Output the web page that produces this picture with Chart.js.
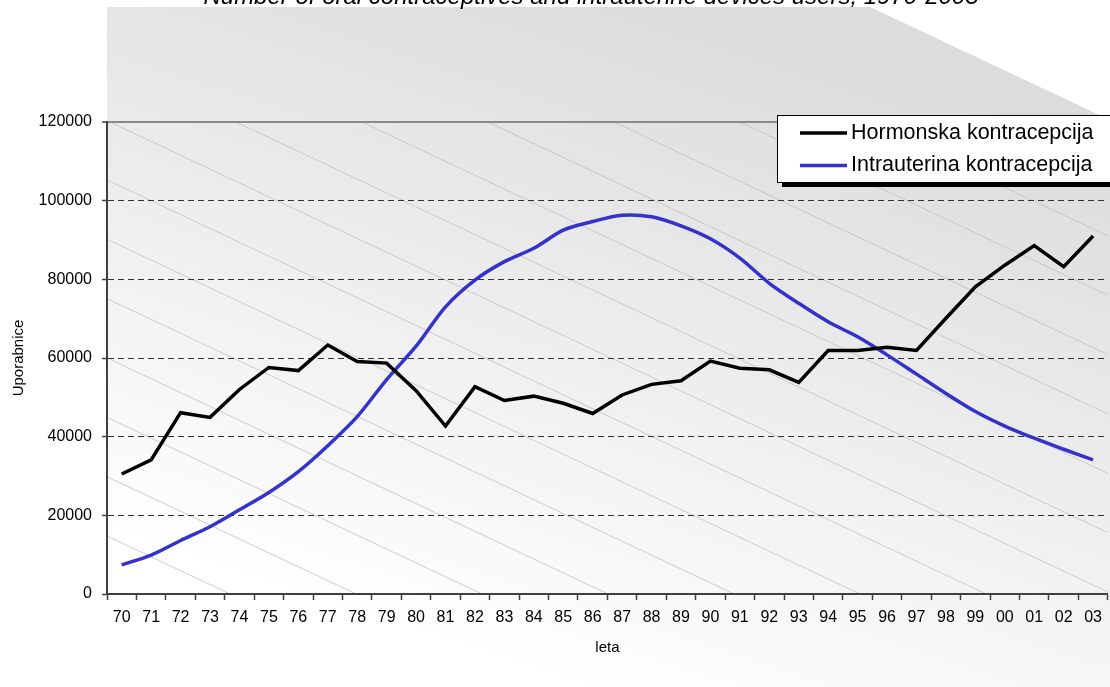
<!DOCTYPE html>
<html>
<head>
<meta charset="utf-8">
<title>Uporabnice kontracepcije</title>
<script src="https://cdn.jsdelivr.net/npm/chart.js@4.4.1/dist/chart.umd.min.js"></script>
<style>
    body { margin: 0; background: #fff; }
    #wrap { width: 1110px; height: 687px; overflow: hidden; }
</style>
</head>
<body>
<div id="wrap"><canvas id="contraChart" width="1110" height="687"></canvas></div>
<script>
const chartTitle = "Number of oral contraceptives and intrauterine devices users, 1970-2003";
const years = ["70", "71", "72", "73", "74", "75", "76", "77", "78", "79",
    "80", "81", "82", "83", "84", "85", "86", "87", "88", "89",
    "90", "91", "92", "93", "94", "95", "96", "97", "98", "99",
    "00", "01", "02", "03"];
const hormonal = [30500, 34100, 46100, 44900, 52000, 57600, 56800, 63300, 59100, 58700,
    51700, 42700, 52700, 49200, 50300, 48500, 45900, 50600, 53300, 54200,
    59200, 57400, 57000, 53800, 61900, 61900, 62700, 61900, 70100, 78100,
    83600, 88600, 83200, 91000];
const intrauterine = [7400, 9900, 13600, 17100, 21400, 25800, 31100, 37700, 45100, 54500,
    63000, 73000, 79800, 84500, 87900, 92500, 94700, 96300, 95900, 93600,
    90300, 85400, 79000, 73900, 69200, 65400, 60800, 55900, 51000, 46400,
    42700, 39600, 36800, 34100];
const yTicks = { min: 0, max: 120000, step: 20000 };

document.addEventListener("DOMContentLoaded", function () {
    const fontFamily = '"Liberation Sans", Arial, sans-serif';
    Chart.defaults.font.family = fontFamily;

    // grey shaded backdrop with thin diagonal lines, like the old office chart
    const backdrop = {
        id: "backdrop",
        beforeDraw(chart) {
            const ctx = chart.ctx;
            const area = chart.chartArea;
            ctx.save();
            const grad = ctx.createLinearGradient(470, 660, 680, 10);
            grad.addColorStop(0, "#ffffff");
            grad.addColorStop(1, "#dcdcdc");
            ctx.fillStyle = grad;
            ctx.beginPath();
            ctx.moveTo(area.left, 7);
            ctx.lineTo(870, 7);
            ctx.lineTo(chart.width, 120);
            ctx.lineTo(chart.width, chart.height);
            ctx.lineTo(330, chart.height);
            ctx.lineTo(area.left, 600);
            ctx.closePath();
            ctx.fill();

            ctx.beginPath();
            ctx.rect(area.left, area.top, area.right - area.left, area.bottom - area.top);
            ctx.clip();
            ctx.strokeStyle = "#c2c2c2";
            ctx.lineWidth = 0.8;
            const run = (area.bottom - area.top) / 0.471;
            for (let x = area.left + 3 - 126 * 10; x < area.right; x += 126) {
                ctx.beginPath();
                ctx.moveTo(x, area.top);
                ctx.lineTo(x + run, area.bottom);
                ctx.stroke();
            }
            ctx.restore();
        }
    };

    const topTitle = {
        id: "topTitle",
        afterDraw(chart) {
            const ctx = chart.ctx;
            ctx.save();
            ctx.font = "italic 24px " + fontFamily;
            ctx.fillStyle = "#000";
            ctx.textAlign = "center";
            ctx.textBaseline = "alphabetic";
            ctx.fillText(chartTitle, 591, 4);
            ctx.restore();
        }
    };

    const boxLegend = {
        id: "boxLegend",
        afterDraw(chart) {
            const ctx = chart.ctx;
            const x = 777, y = 115, w = 345, h = 67;
            ctx.save();
            ctx.fillStyle = "#000";
            ctx.fillRect(x + 5, y + 5, w, h);
            ctx.fillStyle = "#fff";
            ctx.fillRect(x, y, w, h);
            ctx.strokeStyle = "#000";
            ctx.lineWidth = 1;
            ctx.strokeRect(x + 0.5, y + 0.5, w, h);
            ctx.font = "21.5px " + fontFamily;
            ctx.textBaseline = "middle";
            chart.data.datasets.forEach(function (ds, i) {
                const ly = 133 + i * 32.5;
                ctx.strokeStyle = ds.borderColor;
                ctx.lineWidth = 3.5;
                ctx.beginPath();
                ctx.moveTo(800, ly);
                ctx.lineTo(847, ly);
                ctx.stroke();
                ctx.fillStyle = "#000";
                ctx.fillText(ds.label, 851, ly);
            });
            ctx.restore();
        }
    };

    const isTop = (c) => c.tick && c.tick.value === yTicks.max;

    new Chart(document.getElementById("contraChart"), {
        type: "line",
        data: {
            labels: years,
            datasets: [
                {
                    label: "Hormonska kontracepcija",
                    data: hormonal,
                    borderColor: "#000000",
                    borderWidth: 3.5,
                    pointRadius: 0,
                    tension: 0,
                },
                {
                    label: "Intrauterina kontracepcija",
                    data: intrauterine,
                    borderColor: "#3333cc",
                    borderWidth: 3.5,
                    pointRadius: 0,
                    tension: 0.3,
                },
            ],
        },
        options: {
            responsive: false,
            animation: false,
            layout: { padding: { top: 122, right: -3, left: 0, bottom: 0 } },
            plugins: {
                legend: { display: false },
                title: { display: false },
                tooltip: { enabled: false },
            },
            scales: {
                x: {
                    offset: true,
                    grid: {
                        drawOnChartArea: false,
                        offset: true,
                        tickLength: 6,
                        tickColor: "#404040",
                        tickWidth: 1.5,
                    },
                    border: { color: "#404040", width: 2 },
                    ticks: {
                        color: "#000",
                        font: { size: 16 },
                        padding: 8,
                        maxRotation: 0,
                        autoSkip: false,
                    },
                    title: {
                        display: true,
                        text: "leta",
                        color: "#000",
                        font: { size: 15 },
                        padding: { top: 0, bottom: 30 },
                    },
                    afterFit(scale) { scale.height = 93; },
                },
                y: {
                    min: yTicks.min,
                    max: yTicks.max,
                    ticks: {
                        stepSize: yTicks.step,
                        color: "#000",
                        font: { size: 16 },
                        padding: 10,
                        callback: (v) => String(v),
                    },
                    grid: {
                        color: (c) => isTop(c) ? "#8a8a8a" : "#333333",
                        lineWidth: (c) => isTop(c) ? 2 : 1,
                        tickLength: 5,
                        tickColor: "#404040",
                        tickWidth: 1.5,
                    },
                    border: {
                        color: "#404040",
                        width: 2,
                        dash: (c) => isTop(c) ? [] : [6, 4],
                    },
                    title: {
                        display: true,
                        text: "Uporabnice",
                        color: "#000",
                        font: { size: 15 },
                        padding: { top: 10, bottom: 0 },
                    },
                    afterFit(scale) { scale.width = 107; },
                },
            },
        },
        plugins: [backdrop, topTitle, boxLegend],
    });
});
</script>
</body>
</html>
